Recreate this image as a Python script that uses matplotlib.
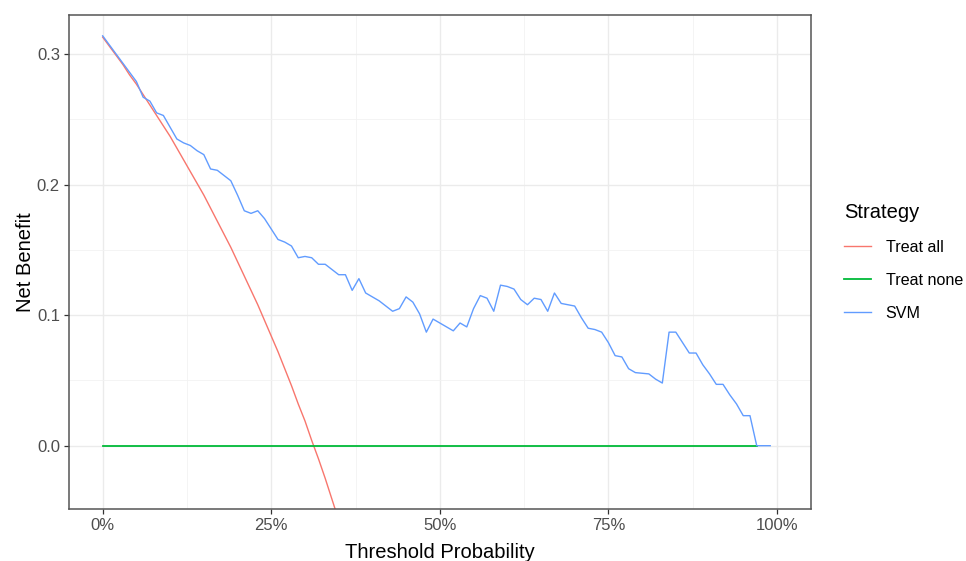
import numpy as np
import matplotlib
matplotlib.use("Agg")
import matplotlib.pyplot as plt
from matplotlib.ticker import FuncFormatter, MultipleLocator

plt.rcParams['font.family'] = ['Liberation Sans', 'DejaVu Sans']

# threshold probabilities (fraction) and net benefit
treat_all_x = [0.00, 0.01, 0.02, 0.03, 0.04, 0.05, 0.06, 0.07, 0.08, 0.09,
               0.10, 0.11, 0.12, 0.13, 0.14, 0.15, 0.16, 0.17, 0.18, 0.19,
               0.20, 0.21, 0.22, 0.23, 0.24, 0.25, 0.26, 0.27, 0.28, 0.29,
               0.30, 0.31, 0.32, 0.33, 0.34, 0.35]
treat_all_y = [0.313, 0.306, 0.299, 0.292, 0.284, 0.277, 0.269, 0.261, 0.253, 0.245,
               0.237, 0.228, 0.219, 0.210, 0.201, 0.192, 0.182, 0.172, 0.162, 0.152,
               0.141, 0.130, 0.119, 0.108, 0.096, 0.084, 0.072, 0.059, 0.046, 0.032,
               0.019, 0.004, -0.010, -0.025, -0.041, -0.057]

treat_none_x = [0.00, 0.97]
treat_none_y = [0.0, 0.0]

svm_x = [0.00, 0.01, 0.02, 0.03, 0.04, 0.05, 0.06, 0.07, 0.08, 0.09,
         0.10, 0.11, 0.12, 0.13, 0.14, 0.15, 0.16, 0.17, 0.18, 0.19,
         0.20, 0.21, 0.22, 0.23, 0.24, 0.25, 0.26, 0.27, 0.28, 0.29,
         0.30, 0.31, 0.32, 0.33, 0.34, 0.35, 0.36, 0.37, 0.38, 0.39,
         0.40, 0.41, 0.42, 0.43, 0.44, 0.45, 0.46, 0.47, 0.48, 0.49,
         0.50, 0.51, 0.52, 0.53, 0.54, 0.55, 0.56, 0.57, 0.58, 0.59,
         0.60, 0.61, 0.62, 0.63, 0.64, 0.65, 0.66, 0.67, 0.68, 0.69,
         0.70, 0.71, 0.72, 0.73, 0.74, 0.75, 0.76, 0.77, 0.78, 0.79,
         0.81, 0.82, 0.83, 0.84, 0.85, 0.86, 0.87, 0.88, 0.89, 0.90,
         0.91, 0.92, 0.93, 0.94, 0.95, 0.96, 0.97, 0.98, 0.99]
svm_y = [0.314, 0.307, 0.300, 0.293, 0.286, 0.279, 0.267, 0.264, 0.255, 0.253,
         0.244, 0.235, 0.232, 0.230, 0.226, 0.223, 0.212, 0.211, 0.207, 0.203,
         0.192, 0.180, 0.178, 0.180, 0.174, 0.166, 0.158, 0.156, 0.153, 0.144,
         0.145, 0.144, 0.139, 0.139, 0.135, 0.131, 0.131, 0.119, 0.128, 0.117,
         0.114, 0.111, 0.107, 0.103, 0.105, 0.114, 0.110, 0.101, 0.087, 0.097,
         0.094, 0.091, 0.088, 0.094, 0.091, 0.105, 0.115, 0.113, 0.103, 0.123,
         0.122, 0.120, 0.112, 0.108, 0.113, 0.112, 0.103, 0.117, 0.109, 0.108,
         0.107, 0.098, 0.090, 0.089, 0.087, 0.079, 0.069, 0.068, 0.059, 0.056,
         0.055, 0.051, 0.048, 0.087, 0.087, 0.079, 0.071, 0.071, 0.062, 0.055,
         0.047, 0.047, 0.039, 0.032, 0.023, 0.023, 0.000, 0.000, 0.000]

labels = ['Treat all', 'Treat none', 'SVM']
colors = ['#F8766D', '#00BA38', '#619CFF']

fig = plt.figure(figsize=(9.66, 5.61), dpi=100)
ax = fig.add_axes([0.0714, 0.0927, 0.8392 - 0.0714, 0.9733 - 0.0927])

ax.plot(treat_all_x, treat_all_y, color=colors[0], lw=1.0, label=labels[0])
ax.plot(treat_none_x, treat_none_y, color=colors[1], lw=1.3, label=labels[1])
ax.plot(svm_x, svm_y, color=colors[2], lw=1.0, label=labels[2])

ax.set_xlim(-0.05, 1.05)
ax.set_ylim(-0.0485, 0.330)

ax.xaxis.set_major_locator(MultipleLocator(0.25))
ax.xaxis.set_minor_locator(MultipleLocator(0.125))
ax.yaxis.set_major_locator(MultipleLocator(0.1))
ax.yaxis.set_minor_locator(MultipleLocator(0.05))
ax.xaxis.set_major_formatter(FuncFormatter(lambda v, p: '%d%%' % round(v * 100)))
ax.yaxis.set_major_formatter(FuncFormatter(lambda v, p: '%.1f' % v))

ax.grid(which='major', color='#EBEBEB', lw=1.0)
ax.grid(which='minor', color='#F2F2F2', lw=0.6)
ax.set_axisbelow(True)
for s in ax.spines.values():
    s.set_color('#555555')
    s.set_linewidth(1.1)
ax.tick_params(which='major', length=3.5, width=0.9, color='#333333',
               labelsize=12, labelcolor='#4D4D4D', pad=3)
ax.tick_params(which='minor', length=0)

ax.set_xlabel('Threshold Probability', fontsize=14.5, labelpad=7)
ax.set_ylabel('Net Benefit', fontsize=14.5, labelpad=1.5)

leg = ax.legend(loc='center left', bbox_to_anchor=(1.025, 0.50), frameon=False,
                title='Strategy', fontsize=11.6, title_fontsize=14.5,
                handlelength=1.7, labelspacing=1.1, handletextpad=0.9)
leg._legend_box.align = 'left'

fig.savefig('out.png', dpi=100)
